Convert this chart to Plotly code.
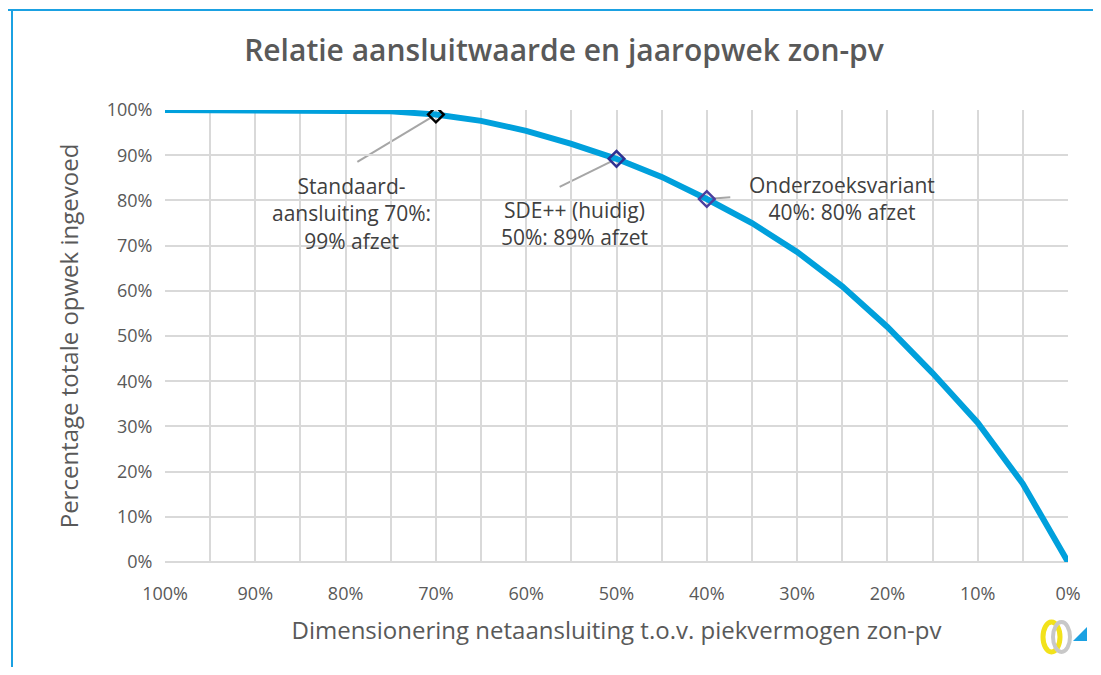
import plotly.graph_objects as go

# Data
dimensionering = [100, 95, 90, 85, 80, 75, 70, 65, 60, 55, 50, 45, 40, 35, 30, 25, 20, 15, 10, 5, 0]
opwek = [100, 100, 100, 100, 100, 99.7, 99, 97.6, 95.4, 92.5, 89.2, 85.2, 80.3, 75, 68.6, 61, 52, 41.8, 30.8, 17.3, 0]

x_ticks = [100, 90, 80, 70, 60, 50, 40, 30, 20, 10, 0]
x_ticktext = ["100%", "90%", "80%", "70%", "60%", "50%", "40%", "30%", "20%", "10%", "0%"]

marker_x = [70, 50, 40]
marker_y = [99, 89.2, 80.3]
marker_colors = ["#000000", "#2E3192", "#4B3F9E"]
labels = ["Standaard-<br>aansluiting 70%:<br>99% afzet",
          "SDE++ (huidig)<br>50%: 89% afzet",
          "Onderzoeksvariant<br>40%: 80% afzet"]

OFF = 8  # browser body margin
W, H = 1101 - 2 * OFF, 675 - 2 * OFF
L, R, T, B = 165, 1068, 110, 562  # plot area in screenshot pixels

def px(x):
    return (x - L) / (R - L)

def py(y):
    return (B - y) / (B - T)

fig = go.Figure()
fig.add_trace(go.Scatter(x=dimensionering, y=opwek, mode="lines",
                         line=dict(color="#00A0DC", width=6), showlegend=False, hoverinfo="skip"))
fig.add_trace(go.Scatter(x=marker_x, y=marker_y, mode="markers", showlegend=False,
                         marker=dict(symbol="diamond-open", size=12, color=marker_colors,
                                     line=dict(width=2.5, color=marker_colors))))

font_txt = "Open Sans, DejaVu Sans, sans-serif"
col = "#595959"

# Leader lines (data coordinates)
leaders = [(70, 99, 78.7, 88.5), (50, 89.2, 56.3, 83.0), (40, 80.3, 37.4, 80.7)]
for x0, y0, x1, y1 in leaders:
    fig.add_shape(type="line", x0=x0, y0=y0, x1=x1, y1=y1, xref="x", yref="y",
                  line=dict(color="#A6A6A6", width=2), layer="below")

ann_pos = [(79.3, 77.2), (54.6, 74.9), (25.0, 80.4)]
for (ax, ay), t in zip(ann_pos, labels):
    fig.add_annotation(x=ax, y=ay, xref="x", yref="y", text=t, showarrow=False,
                       font=dict(family=font_txt, size=21, color="#404040"),
                       align="center", xanchor="center", yanchor="middle")

# blue frame
fig.add_shape(type="line", xref="paper", yref="paper", x0=px(8), x1=px(1101), y0=py(10), y1=py(10),
              line=dict(color="#1BA1E2", width=2))
fig.add_shape(type="line", xref="paper", yref="paper", x0=px(12), x1=px(12), y0=py(10), y1=py(675),
              line=dict(color="#1BA1E2", width=2))

# simple logo approximation
fig.add_shape(type="circle", xref="paper", yref="paper", x0=px(1043), x1=px(1060), y0=py(622), y1=py(652),
              line=dict(color="#F2E21B", width=5))
fig.add_shape(type="circle", xref="paper", yref="paper", x0=px(1053), x1=px(1070), y0=py(622), y1=py(652),
              line=dict(color="#C8C8C8", width=4))
fig.add_shape(type="path", xref="paper", yref="paper",
              path=f"M {px(1073)} {py(641)} L {px(1087)} {py(641)} L {px(1087)} {py(627)} Z",
              fillcolor="#1BA1E2", line=dict(width=0))

fig.update_layout(
    width=W, height=H,
    margin=dict(l=L - OFF, r=W - (R - OFF), t=T - OFF, b=H - (B - OFF)),
    paper_bgcolor="white", plot_bgcolor="white",
    title=dict(text="Relatie aansluitwaarde en jaaropwek zon-pv", x=(564 - OFF) / W, xref="container",
               xanchor="center", y=1 - (50 - OFF) / H, yref="container", yanchor="middle",
               font=dict(family=font_txt, size=30, color=col, weight=600)),
    font=dict(family=font_txt, color=col),
)
fig.update_xaxes(range=[100, 0], tickvals=x_ticks, ticktext=x_ticktext,
                 showgrid=True, gridcolor="#D9D9D9", gridwidth=2,
                 minor=dict(dtick=5, showgrid=True, gridcolor="#D9D9D9", gridwidth=2),
                 zeroline=False, showline=False, ticks="outside", ticklen=15,
                 tickcolor="rgba(0,0,0,0)",
                 tickfont=dict(size=18, color=col),
                 title=dict(text="Dimensionering netaansluiting t.o.v. piekvermogen zon-pv",
                            font=dict(size=24, color=col), standoff=18))
fig.update_yaxes(range=[0, 100], dtick=10, ticksuffix="%",
                 showgrid=True, gridcolor="#D9D9D9", gridwidth=2,
                 zeroline=True, zerolinecolor="#D9D9D9", zerolinewidth=2,
                 showline=False, ticks="outside", ticklen=8, tickcolor="rgba(0,0,0,0)",
                 tickfont=dict(size=18, color=col),
                 title=dict(text="Percentage totale opwek ingevoed", font=dict(size=24, color=col), standoff=21))

fig.write_html("out.html")
